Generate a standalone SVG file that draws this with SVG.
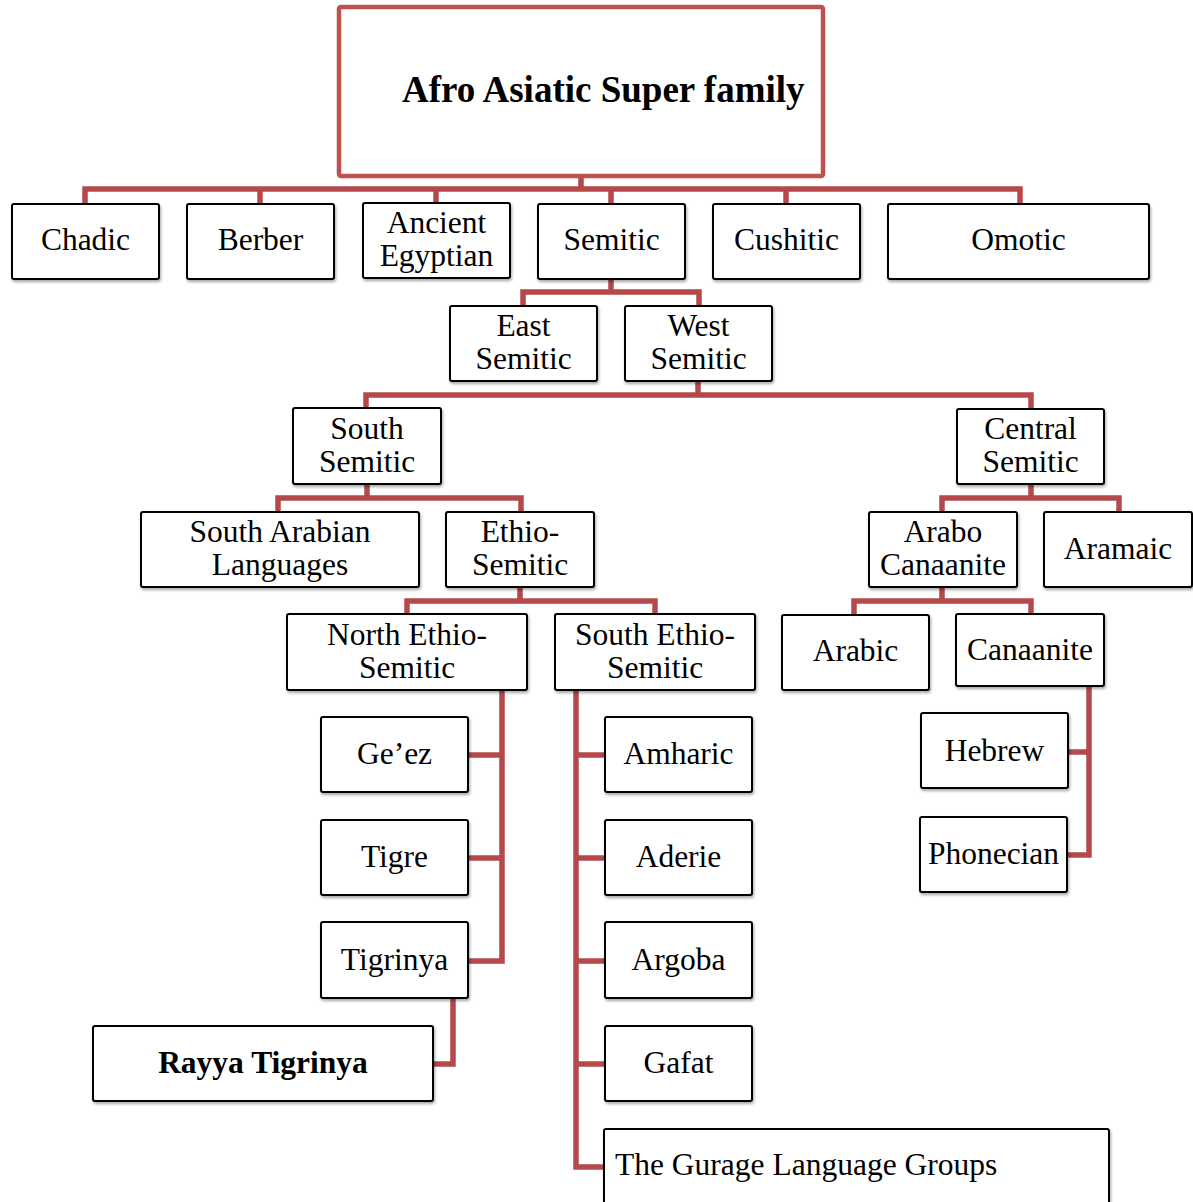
<svg xmlns="http://www.w3.org/2000/svg" width="1193" height="1202" viewBox="0 0 1193 1202">
<defs>
<filter id="sh" x="-10%" y="-10%" width="130%" height="140%">
<feDropShadow dx="1" dy="2" stdDeviation="1.5" flood-color="#000" flood-opacity="0.35"/>
</filter>
</defs>
<style>
.box{fill:#fff;stroke:#000;stroke-width:2;filter:url(#sh)}
.top{fill:#fff;stroke:#c0504d;stroke-width:4.5}
.t{font-family:"Liberation Serif","Times New Roman",serif;font-size:31.5px;fill:#000;text-anchor:middle}
.b{font-weight:bold}
.c{fill:none;stroke:#b5484a;stroke-width:5.5;stroke-linejoin:miter}
</style>
<rect width="1193" height="1202" fill="#fff"/>
<g id="connectors">
<path class="c" d="M581,176V189M85,204V189H1020V204M260,189V204M436,189V204M611,189V204M786,189V204"/>
<path class="c" d="M611,279V292M523,306V292H699V306"/>
<path class="c" d="M698,381V395M366,408V395H1031V409"/>
<path class="c" d="M367,484V498M278,512V498H521V512"/>
<path class="c" d="M520,587V601M407,614V601H655V614"/>
<path class="c" d="M1031,484V498M942,512V498H1119V512"/>
<path class="c" d="M942,587V601M854,615V601H1031V614"/>
<path class="c" d="M1089,686V855H1067M1067,752H1089"/>
<path class="c" d="M502,690V961H468M468,755H502M468,858H502"/>
<path class="c" d="M453,998V1064H433"/>
<path class="c" d="M576,690V1167H604M576,755H604M576,858H604M576,961H604M576,1064H604"/>
</g>
<g id="afro-asiatic">
<rect class="top" x="339" y="7" width="484" height="169" rx="2"/>
<text class="t b" x="402" y="102" style="text-anchor:start;font-size:37px">Afro Asiatic Super family</text>
</g>
<g id="chadic"><rect class="box" x="12" y="204" width="147" height="75" rx="2"/><text class="t" x="85.5" y="250">Chadic</text></g>
<g id="berber"><rect class="box" x="187" y="204" width="147" height="75" rx="2"/><text class="t" x="260.5" y="250">Berber</text></g>
<g id="ancient-egyptian"><rect class="box" x="363" y="203" width="147" height="75" rx="2"/><text class="t" x="436.5" y="233">Ancient</text><text class="t" x="436.5" y="266">Egyptian</text></g>
<g id="semitic"><rect class="box" x="538" y="204" width="147" height="75" rx="2"/><text class="t" x="611.5" y="250">Semitic</text></g>
<g id="cushitic"><rect class="box" x="713" y="204" width="147" height="75" rx="2"/><text class="t" x="786.5" y="250">Cushitic</text></g>
<g id="omotic"><rect class="box" x="888" y="204" width="261" height="75" rx="2"/><text class="t" x="1018.5" y="250">Omotic</text></g>
<g id="east-semitic"><rect class="box" x="450" y="306" width="147" height="75" rx="2"/><text class="t" x="523.5" y="336">East</text><text class="t" x="523.5" y="369">Semitic</text></g>
<g id="west-semitic"><rect class="box" x="625" y="306" width="147" height="75" rx="2"/><text class="t" x="698.5" y="336">West</text><text class="t" x="698.5" y="369">Semitic</text></g>
<g id="south-semitic"><rect class="box" x="293" y="408" width="148" height="76" rx="2"/><text class="t" x="367" y="438.5">South</text><text class="t" x="367" y="471.5">Semitic</text></g>
<g id="central-semitic"><rect class="box" x="957" y="409" width="147" height="75" rx="2"/><text class="t" x="1030.5" y="439">Central</text><text class="t" x="1030.5" y="472">Semitic</text></g>
<g id="south-arabian"><rect class="box" x="141" y="512" width="278" height="75" rx="2"/><text class="t" x="280" y="542">South Arabian</text><text class="t" x="280" y="575">Languages</text></g>
<g id="ethio-semitic"><rect class="box" x="446" y="512" width="148" height="75" rx="2"/><text class="t" x="520" y="542">Ethio-</text><text class="t" x="520" y="575">Semitic</text></g>
<g id="arabo-canaanite"><rect class="box" x="869" y="512" width="148" height="75" rx="2"/><text class="t" x="943" y="542">Arabo</text><text class="t" x="943" y="575">Canaanite</text></g>
<g id="aramaic"><rect class="box" x="1044" y="512" width="148" height="75" rx="2"/><text class="t" x="1118" y="559">Aramaic</text></g>
<g id="north-ethio-semitic"><rect class="box" x="287" y="614" width="240" height="76" rx="2"/><text class="t" x="407" y="645">North Ethio-</text><text class="t" x="407" y="678">Semitic</text></g>
<g id="south-ethio-semitic"><rect class="box" x="555" y="614" width="200" height="76" rx="2"/><text class="t" x="655" y="645">South Ethio-</text><text class="t" x="655" y="678">Semitic</text></g>
<g id="arabic"><rect class="box" x="782" y="615" width="147" height="75" rx="2"/><text class="t" x="855.5" y="661">Arabic</text></g>
<g id="canaanite"><rect class="box" x="956" y="614" width="148" height="72" rx="2"/><text class="t" x="1030" y="660">Canaanite</text></g>
<g id="hebrew"><rect class="box" x="921" y="713" width="147" height="75" rx="2"/><text class="t" x="994.5" y="761">Hebrew</text></g>
<g id="phonecian"><rect class="box" x="920" y="817" width="147" height="75" rx="2"/><text class="t" x="993.5" y="864">Phonecian</text></g>
<g id="geez"><rect class="box" x="321" y="717" width="147" height="75" rx="2"/><text class="t" x="394.5" y="764">Ge’ez</text></g>
<g id="tigre"><rect class="box" x="321" y="820" width="147" height="75" rx="2"/><text class="t" x="394.5" y="867">Tigre</text></g>
<g id="tigrinya"><rect class="box" x="321" y="922" width="147" height="76" rx="2"/><text class="t" x="394.5" y="970">Tigrinya</text></g>
<g id="rayya-tigrinya"><rect class="box" x="93" y="1026" width="340" height="75" rx="2"/><text class="t b" x="263" y="1073">Rayya Tigrinya</text></g>
<g id="amharic"><rect class="box" x="605" y="717" width="147" height="75" rx="2"/><text class="t" x="678.5" y="764">Amharic</text></g>
<g id="aderie"><rect class="box" x="605" y="820" width="147" height="75" rx="2"/><text class="t" x="678.5" y="867">Aderie</text></g>
<g id="argoba"><rect class="box" x="605" y="922" width="147" height="76" rx="2"/><text class="t" x="678.5" y="970">Argoba</text></g>
<g id="gafat"><rect class="box" x="605" y="1026" width="147" height="75" rx="2"/><text class="t" x="678.5" y="1073">Gafat</text></g>
<g id="gurage"><rect class="box" x="604" y="1129" width="505" height="90" rx="2"/><text class="t" x="615" y="1175" style="text-anchor:start">The Gurage Language Groups</text></g>
</svg>
